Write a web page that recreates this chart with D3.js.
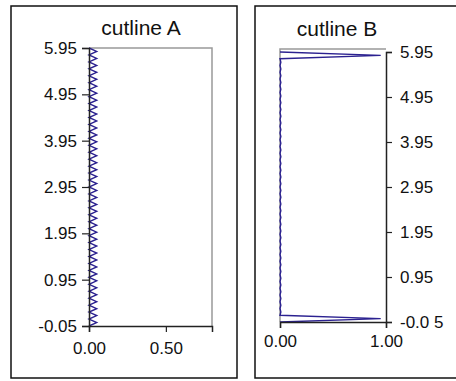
<!DOCTYPE html>
<html lang="en">
<head>
<meta charset="utf-8">
<title>cutline</title>
<script src="https://d3js.org/d3.v7.min.js"></script>
<style>
  body { margin: 0; background: #fff; }
  text { font-family: "Liberation Sans", Arial, sans-serif; fill: #111; }
</style>
</head>
<body>
<script>
// shared y sampling of both cutlines
const yValues = [
  -0.05, 0.025, 0.1, 0.175, 0.25, 0.325, 0.4, 0.475, 0.55, 0.625,
  0.7, 0.775, 0.85, 0.925, 1.0, 1.075, 1.15, 1.225, 1.3, 1.375,
  1.45, 1.525, 1.6, 1.675, 1.75, 1.825, 1.9, 1.975, 2.05, 2.125,
  2.2, 2.275, 2.35, 2.425, 2.5, 2.575, 2.65, 2.725, 2.8, 2.875,
  2.95, 3.025, 3.1, 3.175, 3.25, 3.325, 3.4, 3.475, 3.55, 3.625,
  3.7, 3.775, 3.85, 3.925, 4.0, 4.075, 4.15, 4.225, 4.3, 4.375,
  4.45, 4.525, 4.6, 4.675, 4.75, 4.825, 4.9, 4.975, 5.05, 5.125,
  5.2, 5.275, 5.35, 5.425, 5.5, 5.575, 5.65, 5.725, 5.8, 5.875,
  5.95
];
// cutline A: small zigzag along the axis
const xA = [
  0, 0.05, 0, 0.05, 0, 0.05, 0, 0.05, 0, 0.05,
  0, 0.05, 0, 0.05, 0, 0.05, 0, 0.05, 0, 0.05,
  0, 0.05, 0, 0.05, 0, 0.05, 0, 0.05, 0, 0.05,
  0, 0.05, 0, 0.05, 0, 0.05, 0, 0.05, 0, 0.05,
  0, 0.05, 0, 0.05, 0, 0.05, 0, 0.05, 0, 0.05,
  0, 0.05, 0, 0.05, 0, 0.05, 0, 0.05, 0, 0.05,
  0, 0.05, 0, 0.05, 0, 0.05, 0, 0.05, 0, 0.05,
  0, 0.05, 0, 0.05, 0, 0.05, 0, 0.05, 0, 0.05,
  0
];
// cutline B: flat except the two end spikes
const xB = [
  0, 0.95, 0, 0.008, 0, 0.008, 0, 0.008, 0, 0.008,
  0, 0.008, 0, 0.008, 0, 0.008, 0, 0.008, 0, 0.008,
  0, 0.008, 0, 0.008, 0, 0.008, 0, 0.008, 0, 0.008,
  0, 0.008, 0, 0.008, 0, 0.008, 0, 0.008, 0, 0.008,
  0, 0.008, 0, 0.008, 0, 0.008, 0, 0.008, 0, 0.008,
  0, 0.008, 0, 0.008, 0, 0.008, 0, 0.008, 0, 0.008,
  0, 0.008, 0, 0.008, 0, 0.008, 0, 0.008, 0, 0.008,
  0, 0.008, 0, 0.008, 0, 0.008, 0, 0.008, 0, 0.95,
  0
];

const yTicks = [-0.05, 0.95, 1.95, 2.95, 3.95, 4.95, 5.95];
const yLabelsA = ["-0.05", "0.95", "1.95", "2.95", "3.95", "4.95", "5.95"];
const yLabelsB = ["-0.0 5", "0.95", "1.95", "2.95", "3.95", "4.95", "5.95"];
const xTicksA = [0, 0.5];
const xLabelsA = ["0.00", "0.50"];
const xTicksB = [0, 1];
const xLabelsB = ["0.00", "1.00"];

const width = 456, height = 381;
const lineColor = "#2b2190";

const svg = d3.select("body").append("svg")
  .attr("width", width)
  .attr("height", height);

// outer frames
svg.append("rect").attr("x", 11).attr("y", 6).attr("width", 226).attr("height", 372)
  .attr("fill", "none").attr("stroke", "#111").attr("stroke-width", 1.5);
svg.append("rect").attr("x", 255).attr("y", 6).attr("width", 210).attr("height", 372)
  .attr("fill", "none").attr("stroke", "#111").attr("stroke-width", 1.5);

function styleAxis(g) {
  g.select(".domain").attr("stroke", "#222").attr("stroke-width", 1.5);
  g.selectAll(".tick line").attr("stroke", "#222").attr("stroke-width", 1.2);
  g.selectAll(".tick text").attr("font-size", 17).attr("fill", "#111")
    .style("font-family", "'Liberation Sans', Arial, sans-serif");
}

// ---- panel A ----
const xa = d3.scaleLinear().domain([0, 0.8]).range([89, 212]);
const ya = d3.scaleLinear().domain([-0.05, 5.95]).range([326, 48]);

svg.append("path")
  .attr("d", `M${xa(0)},${ya(5.95)}H${xa(0.8)}V${ya(-0.05)}`)
  .attr("fill", "none").attr("stroke", "#999").attr("stroke-width", 1.5);

svg.append("path")
  .datum(yValues.map((y, i) => [xA[i], y]))
  .attr("fill", "none")
  .attr("stroke", lineColor)
  .attr("stroke-width", 1.4)
  .attr("d", d3.line().x(d => xa(d[0])).y(d => ya(d[1])));

svg.append("g").attr("transform", `translate(0,${ya(-0.05)})`)
  .call(d3.axisBottom(xa).tickValues(xTicksA).tickFormat((d, i) => xLabelsA[i])
    .tickSizeOuter(0).tickSize(6).tickPadding(10))
  .call(styleAxis);
svg.append("g").attr("transform", `translate(${xa(0)},0)`)
  .call(d3.axisLeft(ya).tickValues(yTicks).tickFormat((d, i) => yLabelsA[i])
    .tickSizeOuter(0).tickSize(7).tickPadding(5))
  .call(styleAxis);

svg.append("text").attr("x", 141).attr("y", 35).attr("text-anchor", "middle")
  .attr("font-size", 21).text("cutline A");

// ---- panel B ----
const xb = d3.scaleLinear().domain([0, 1]).range([280, 386]);
const yb = d3.scaleLinear().domain([-0.05, 5.95]).range([322, 52]);

svg.append("path")
  .attr("d", `M${xb(1)},${yb(5.95) - 3}H${xb(0)}V${yb(-0.05)}`)
  .attr("fill", "none").attr("stroke", "#999").attr("stroke-width", 1.5);

svg.append("path")
  .datum(yValues.map((y, i) => [xB[i], y]))
  .attr("fill", "none")
  .attr("stroke", lineColor)
  .attr("stroke-width", 1.4)
  .attr("d", d3.line().x(d => xb(d[0])).y(d => yb(d[1])));

svg.append("g").attr("transform", `translate(0,${yb(-0.05)})`)
  .call(d3.axisBottom(xb).tickValues(xTicksB).tickFormat((d, i) => xLabelsB[i])
    .tickSizeOuter(0).tickSize(6).tickPadding(7))
  .call(styleAxis);
svg.append("g").attr("transform", `translate(${xb(1)},0)`)
  .call(d3.axisRight(yb).tickValues(yTicks).tickFormat((d, i) => yLabelsB[i])
    .tickSizeOuter(0).tickSize(6).tickPadding(8))
  .call(styleAxis);

svg.append("text").attr("x", 337).attr("y", 36).attr("text-anchor", "middle")
  .attr("font-size", 21).text("cutline B");
</script>
</body>
</html>
